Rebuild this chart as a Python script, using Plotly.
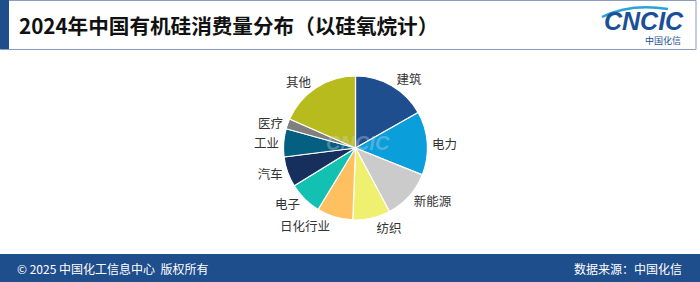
import plotly.graph_objects as go

W, H = 700, 282

categories = ["建筑", "电力", "新能源", "纺织", "日化行业", "电子", "汽车", "工业", "医疗", "其他"]
shares = [16.8, 14.3, 11.1, 8.4, 8.1, 7.5, 6.8, 6.3, 2.3, 18.4]
colors = ["#1f4e8f", "#0a9edb", "#cbcbcb", "#eff070", "#ffc061", "#12c1b1",
          "#172f5c", "#045f81", "#7f7f7f", "#b8bb1d"]

title_text = "2024年中国有机硅消费量分布（以硅氧烷计）"
footer_left = "© 2025 中国化工信息中心  版权所有"
footer_right = "数据来源：中国化信"

FONT = "Noto Sans CJK SC"
BLUE = "#1f4e8c"


def px(x):
    return x / W


def py(y):
    return 1 - y / H


cx, cy, r = 355.5, 148, 72

fig = go.Figure(go.Pie(
    labels=categories,
    values=shares,
    sort=False,
    direction="clockwise",
    rotation=0,
    marker=dict(colors=colors, line=dict(color="white", width=1.2)),
    textinfo="label",
    textposition="outside",
    outsidetextfont=dict(family=FONT, size=12.5, color="#333333"),
    hoverinfo="label+percent",
    domain=dict(x=[px(cx - r), px(cx + r)], y=[py(cy + r), py(cy - r)]),
    showlegend=False,
))

shapes = [
    # title frame
    dict(type="rect", xref="paper", yref="paper", x0=px(0.5), x1=px(696), y0=py(49.5), y1=py(0.5),
         line=dict(color="#8a9cc0", width=1), fillcolor="rgba(0,0,0,0)"),
    # left bar
    dict(type="rect", xref="paper", yref="paper", x0=0, x1=px(9), y0=py(49), y1=1,
         line=dict(width=0), fillcolor=BLUE),
    # footer band
    dict(type="rect", xref="paper", yref="paper", x0=0, x1=1, y0=0, y1=py(254),
         line=dict(width=0), fillcolor=BLUE),
    # logo swoosh
    dict(type="path", xref="paper", yref="paper",
         path=f"M {px(602)},{py(17)} Q {px(630)},{py(3)} {px(668)},{py(9)}",
         line=dict(color="#29a3d8", width=2.5)),
]

annotations = [
    dict(text=title_text, x=px(17), y=py(25), xref="paper", yref="paper",
         xanchor="left", yanchor="middle", showarrow=False,
         font=dict(family=FONT, size=20.6, color="#111111", weight="bold")),
    dict(text="<i><b>CNCIC</b></i>", x=px(644), y=py(21), xref="paper", yref="paper",
         xanchor="center", yanchor="middle", showarrow=False,
         font=dict(family="Liberation Sans", size=25, color="#1b4f97")),
    dict(text="中国化信", x=px(663), y=py(41), xref="paper", yref="paper",
         xanchor="center", yanchor="middle", showarrow=False,
         font=dict(family=FONT, size=9, color="#1b4f97")),
    dict(text="<i><b>CNCIC</b></i>", x=px(cx + 2), y=py(cy - 5), xref="paper", yref="paper",
         xanchor="center", yanchor="middle", showarrow=False,
         font=dict(family="Liberation Sans", size=20, color="rgba(210,215,225,0.35)")),
    dict(text=footer_left, x=px(15), y=py(268), xref="paper", yref="paper",
         xanchor="left", yanchor="middle", showarrow=False,
         font=dict(family=FONT, size=12, color="white")),
    dict(text=footer_right, x=px(684), y=py(268), xref="paper", yref="paper",
         xanchor="right", yanchor="middle", showarrow=False,
         font=dict(family=FONT, size=12, color="white")),
]

fig.update_layout(
    width=W, height=H,
    margin=dict(l=0, r=0, t=0, b=0),
    paper_bgcolor="white",
    plot_bgcolor="white",
    shapes=shapes,
    annotations=annotations,
)

fig.write_html("out.html")
